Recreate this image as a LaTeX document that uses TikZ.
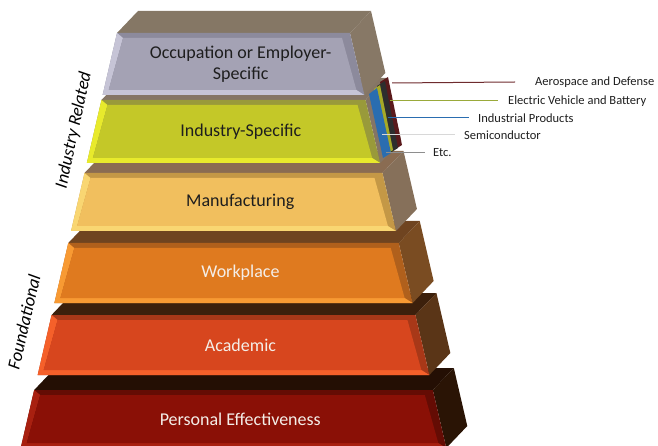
\documentclass[tikz,border=0pt]{standalone}
\usepackage{fontspec}
\setmainfont{Carlito}
\usetikzlibrary{calc}

% tier colours: face, bevel light/dark, side and top of the slab
\definecolor{OccFace}{HTML}{A4A2B4}
\definecolor{OccLight}{HTML}{C6C4D6}
\definecolor{OccDark}{HTML}{8C8A9C}
\definecolor{OccSide}{HTML}{877866}
\definecolor{OccTop}{HTML}{857765}
\definecolor{IndFace}{HTML}{C4C828}
\definecolor{IndLight}{HTML}{E8EA2C}
\definecolor{IndDark}{HTML}{999A3A}
\definecolor{IndSide}{HTML}{857565}
\definecolor{IndTop}{HTML}{857565}
\definecolor{ManFace}{HTML}{F1BF5E}
\definecolor{ManLight}{HTML}{F9D672}
\definecolor{ManDark}{HTML}{C49846}
\definecolor{ManSide}{HTML}{86705A}
\definecolor{ManTop}{HTML}{8A6C52}
\definecolor{WrkFace}{HTML}{DF7A1F}
\definecolor{WrkLight}{HTML}{F89A33}
\definecolor{WrkDark}{HTML}{B0601C}
\definecolor{WrkSide}{HTML}{7A4C22}
\definecolor{WrkTop}{HTML}{6F4420}
\definecolor{AcaFace}{HTML}{D7461E}
\definecolor{AcaLight}{HTML}{F5602A}
\definecolor{AcaDark}{HTML}{A83818}
\definecolor{AcaSide}{HTML}{5A3517}
\definecolor{AcaTop}{HTML}{3C200C}
\definecolor{PerFace}{HTML}{8A1006}
\definecolor{PerLight}{HTML}{A82010}
\definecolor{PerDark}{HTML}{640C04}
\definecolor{PerSide}{HTML}{2A1405}
\definecolor{PerTop}{HTML}{240F04}
\definecolor{DarkTxt}{HTML}{1E1E1E}
\definecolor{LightTxt}{HTML}{F4EEE8}
% industry slabs and their leaders
\definecolor{AeroClr}{HTML}{5A1A1C}
\definecolor{AeroLn}{HTML}{6E2B2E}
\definecolor{EvClr}{HTML}{A6AA26}
\definecolor{EvLn}{HTML}{9AAA3A}
\definecolor{ProdClr}{HTML}{2A6DB0}
\definecolor{SlabClr}{HTML}{2E2E2E}
\definecolor{SemiLn}{HTML}{D8D8D8}
\definecolor{EtcLn}{HTML}{8E8E8E}

% #1 top y, #2 bottom y, #3 colour prefix and node name, #4 text colour, #5 text
\newcommand{\DrawTier}[5]{%
  \pgfmathsetmacro{\TLx}{117-0.232*(#1-33)}
  \pgfmathsetmacro{\TRx}{350+0.232*(#1-33)}
  \pgfmathsetmacro{\BRx}{350+0.232*(#2-33)}
  \pgfmathsetmacro{\BLx}{117-0.232*(#2-33)}
  \coordinate (#3TL) at (\TLx,#1);
  \coordinate (#3TR) at (\TRx,#1);
  \coordinate (#3BR) at (\BRx,#2);
  \coordinate (#3BL) at (\BLx,#2);
  \fill[#3Top] (#3TL) -- ++(21,-22) -- ($(#3TR)+(21,-22)$) -- (#3TR) -- cycle;
  \fill[#3Side] (#3TR) -- ++(21,-22) -- ($(#3BR)+(21,-22)$) -- (#3BR) -- cycle;
  \coordinate (#3a) at ($(#3TL)+(6,5)$);
  \coordinate (#3b) at ($(#3TR)+(-8,5)$);
  \coordinate (#3c) at ($(#3BR)+(-8,-5)$);
  \coordinate (#3d) at ($(#3BL)+(6,-5)$);
  \fill[#3Dark] (#3TL) -- (#3TR) -- (#3BR) -- (#3BL) -- cycle;
  \fill[#3Light] (#3TL) -- (#3a) -- (#3d) -- (#3c) -- (#3BR) -- (#3BL) -- cycle;
  \fill[#3Face] (#3a) -- (#3b) -- (#3c) -- (#3d) -- cycle;
  \node[tierlabel,text=#4] (#3) at ($(#3TL)!0.5!(#3BR)$) {#5};
}

\begin{document}
\begin{tikzpicture}[x=1pt,y=-1pt,
  tierlabel/.style={font=\fontsize{18}{21.5}\selectfont,align=center,inner sep=0pt},
  sidelabel/.style={font=\fontsize{18}{21}\selectfont\itshape,inner sep=0pt},
  sectorlabel/.style={font=\fontsize{12.5}{14}\selectfont,text=DarkTxt,anchor=west,inner sep=0pt},
  leader/.style={line width=1pt}]
\useasboundingbox (0,0) rectangle (658,446);

\DrawTier{390}{448}{Per}{LightTxt}{Personal Effectiveness}
\DrawTier{315}{375}{Aca}{LightTxt}{Academic}
\DrawTier{243}{303}{Wrk}{LightTxt}{Workplace}
\DrawTier{173}{231}{Man}{DarkTxt}{Manufacturing}
\DrawTier{100}{163}{Ind}{DarkTxt}{Industry-Specific}
\DrawTier{33}{95}{Occ}{DarkTxt}{Occupation or Employer-\\Specific}

% stacked industry slabs on the side
\fill[AeroClr] (380,82) -- (388,77) -- (402,145) -- (394,150) -- cycle;
\fill[SlabClr] (377,86) -- (385,81) -- (398,148) -- (390,153) -- cycle;
\fill[EvClr] (374,89) -- (380,85) -- (393,150) -- (387,154) -- cycle;
\fill[ProdClr] (369,94) -- (377,88) -- (391,153) -- (383,158) -- cycle;

\node[sectorlabel] (aero) at (535,82) {Aerospace and Defense};
\node[sectorlabel] (ev) at (508,101) {Electric Vehicle and Battery};
\node[sectorlabel] (prod) at (478,118) {Industrial Products};
\node[sectorlabel] (semi) at (464,135) {Semiconductor};
\node[sectorlabel] (etc) at (433,153) {Etc.};

\coordinate (aeroP) at (392,83);
\coordinate (evP) at (390,101);
\coordinate (prodP) at (388,118);
\coordinate (semiP) at (382,135);
\coordinate (etcP) at (386,153);

\draw[leader,AeroLn] (aeroP) -- ($(aero.west)+(-20,0)$);
\draw[leader,EvLn] (evP) -- ($(ev.west)+(-10,0)$);
\draw[leader,ProdClr] (prodP) -- ($(prod.west)+(-9,0)$);
\draw[leader,SemiLn] (semiP) -- ($(semi.west)+(-9,0)$);
\draw[leader,EtcLn] (etcP) -- ($(etc.west)+(-8,0)$);

\node[sidelabel,rotate=78] (indrel) at (74,130) {Industry Related};
\node[sidelabel,rotate=77] (found) at (24,322) {Foundational};
\end{tikzpicture}
\end{document}
